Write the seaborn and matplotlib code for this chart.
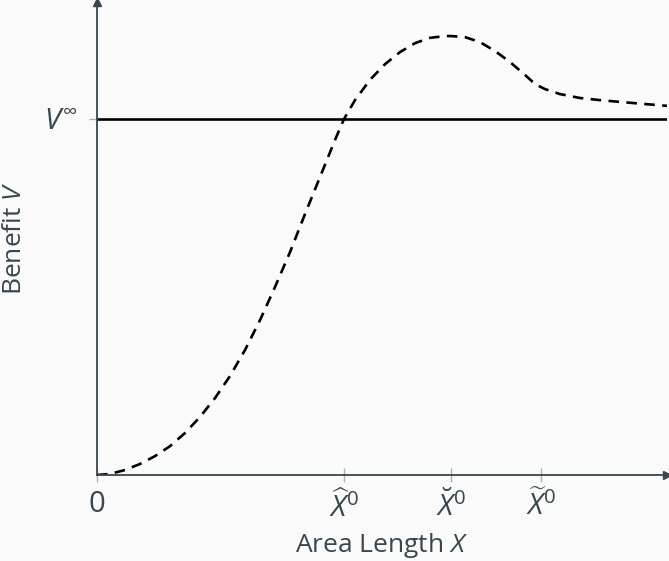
import matplotlib
matplotlib.use("Agg")
import matplotlib.pyplot as plt
import seaborn as sns
import pandas as pd

# Data (x in axis units, y relative to V_inf = 1)
curve_x = [0.00, 0.13, 0.28, 0.43, 0.58, 0.73, 0.88, 1.03, 1.18, 1.33, 1.48,
           1.63, 1.78, 1.93, 2.08, 2.23, 2.38, 2.47, 2.58, 2.73, 2.88, 3.03,
           3.18, 3.33, 3.48, 3.54, 3.68, 3.83, 3.98, 4.13, 4.28, 4.38, 4.48,
           4.63, 4.83, 5.03, 5.23, 5.48, 5.70]
curve_y = [0.000, 0.003, 0.014, 0.031, 0.053, 0.081, 0.118, 0.163, 0.216, 0.278,
           0.351, 0.435, 0.528, 0.626, 0.733, 0.837, 0.941, 1.000, 1.053, 1.110,
           1.154, 1.188, 1.213, 1.228, 1.233, 1.233, 1.230, 1.216, 1.191, 1.160,
           1.124, 1.098, 1.084, 1.070, 1.059, 1.053, 1.048, 1.042, 1.037]
v_inf = 1.0
xtick_vals = [0.0, 2.47, 3.54, 4.44]
xtick_labels = ["0", r"$\widehat{X}^0$", r"$\breve{X}^0$", r"$\widetilde{X}^0$"]
ytick_vals = [v_inf]
ytick_labels = [r"$V^{\infty}$"]

sns.set_theme(style="white")
plt.rcParams["font.family"] = ["Open Sans", "DejaVu Sans"]
plt.rcParams["mathtext.fontset"] = "custom"
plt.rcParams["mathtext.rm"] = "Open Sans"
plt.rcParams["mathtext.it"] = "Open Sans:italic"
plt.rcParams["mathtext.bf"] = "Open Sans:bold"

slate = "#37474F"
bg = "#FAFAFA"

fig = plt.figure(figsize=(6.69, 5.61), dpi=100, facecolor=bg)
ax = fig.add_axes([97 / 669, 86 / 561, 570 / 669, 473 / 561])
ax.set_facecolor(bg)

df = pd.DataFrame({"x": curve_x, "y": curve_y})
sns.lineplot(data=df, x="x", y="y", ax=ax, color="black", lw=1.9,
             linestyle=(0, (4, 2.8)))
ax.plot([0, 5.70], [v_inf, v_inf], color="black", lw=1.9)

ax.set_xlim(0, 5.70)
ax.set_ylim(0, 473 / 356)

for s in ["top", "right"]:
    ax.spines[s].set_visible(False)
for s in ["left", "bottom"]:
    ax.spines[s].set_color(slate)
    ax.spines[s].set_linewidth(1.3)

ax.plot(1, 0, ">", transform=ax.transAxes, clip_on=False, color=slate, ms=6)
ax.plot(0, 1, "^", transform=ax.transAxes, clip_on=False, color=slate, ms=6)

ax.set_xticks(xtick_vals)
ax.set_xticklabels(xtick_labels)
ax.set_yticks(ytick_vals)
ax.set_yticklabels(ytick_labels)
ax.tick_params(axis="x", direction="inout", length=10, width=1, color="#B0B0B0",
               labelsize=21, labelcolor=slate, pad=6, bottom=True)
ax.tick_params(axis="y", direction="out", length=6, width=1, color="#B0B0B0",
               labelsize=21, labelcolor=slate, pad=8, left=True)

ax.set_xlabel(r"Area Length $X$", fontsize=19, color=slate)
ax.xaxis.label.set(va="center", ha="center")
ax.xaxis.set_label_coords(0.5, -70 / 473)
ax.set_ylabel(r"Benefit $V$", fontsize=19, color=slate)
ax.yaxis.label.set(va="center", ha="center", rotation_mode="default")
ax.yaxis.set_label_coords(-82 / 570, 0.5)

fig.savefig("out.png", dpi=100, facecolor=bg)
